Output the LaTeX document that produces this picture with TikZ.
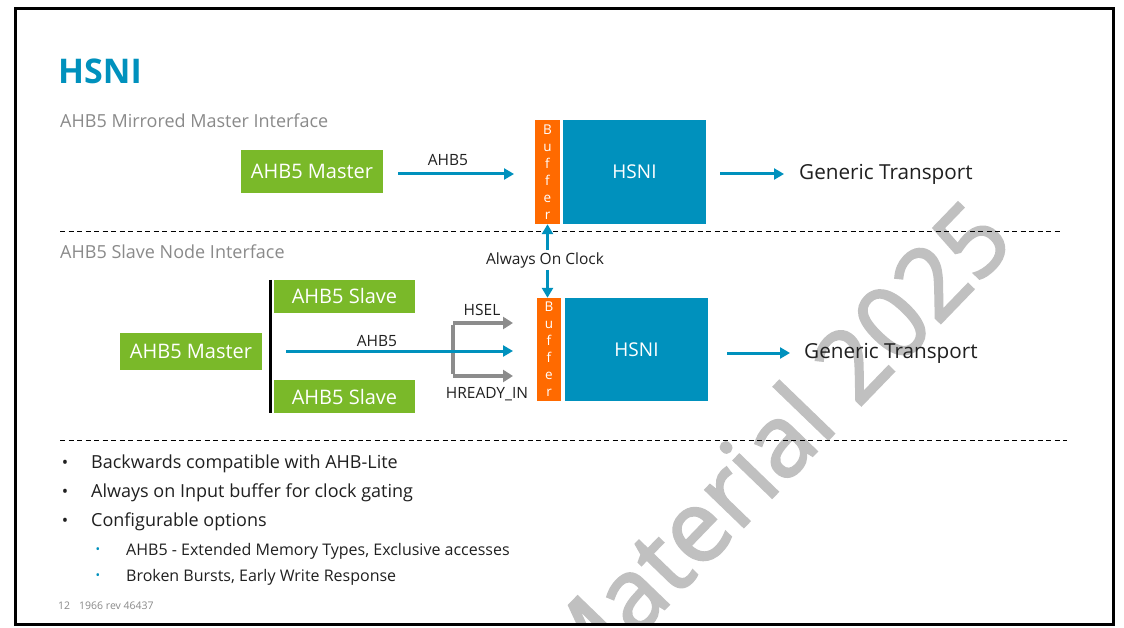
\documentclass[tikz,border=0pt]{standalone}
\usepackage{fontspec}
\setmainfont{Open Sans}
\newfontfamily\wmfont[FakeBold=2.2]{Open Sans}
\usetikzlibrary{arrows.meta,calc}
\definecolor{hgreen}{HTML}{7AB929}
\definecolor{hblue}{HTML}{0091BD}
\definecolor{horange}{HTML}{FF6A00}
\definecolor{hgray}{HTML}{8C8C8C}
\definecolor{hsub}{HTML}{8A8A8A}
\definecolor{htext}{HTML}{202020}
\definecolor{hwm}{HTML}{C0C0C0}
\tikzset{
  greenbox/.style={fill=hgreen, text=white, inner sep=0pt, font=\fontsize{20}{24}\selectfont},
  bluebox/.style={fill=hblue, text=white, inner sep=0pt, minimum width=143pt, minimum height=104pt, font=\fontsize{19}{22}\selectfont},
  bufbox/.style={fill=horange, text=white, inner sep=0pt, align=center, font=\fontsize{13.5}{17}\selectfont},
  lbl/.style={text=htext, inner sep=0pt, font=\fontsize{15.5}{18}\selectfont},
  gtlbl/.style={text=htext, inner sep=0pt, font=\fontsize{20.7}{24}\selectfont},
  barrow/.style={draw=hblue, line width=3pt, -{Triangle[length=10pt,width=11pt]}},
  garrow/.style={draw=hgray, line width=3.5pt, -{Triangle[length=10pt,width=12pt]}},
  dline/.style={draw=black, line width=1pt, dash pattern=on 5pt off 3.5pt},
  bullettxt/.style={text=htext, inner sep=0pt, anchor=west, font=\fontsize{18}{22}\selectfont},
  subtxt/.style={text=htext, inner sep=0pt, anchor=west, font=\fontsize{16}{19}\selectfont},
}
\begin{document}
\begin{tikzpicture}[x=1pt,y=-1pt]
\useasboundingbox (0,0) rectangle (1124,628);
\fill[white] (0,0) rectangle (1124,628);
% watermark
\begin{scope}
\clip (15.5,8.5) rectangle (1113.5,624.5);
\node[text=hwm, rotate=46, inner sep=0pt, font=\wmfont\fontsize{100}{110}\selectfont] (wm) at (768,448) {Material 2025};
\end{scope}
% frame
\draw[line width=3pt] (15.5,8.5) rectangle (1113.5,624.5);
% title
\node[anchor=west, inner sep=0pt, text=hblue, font=\bfseries\fontsize{34}{40}\selectfont] (title) at (58,71) {HSNI};
\node[anchor=west, inner sep=0pt, text=hsub, font=\fontsize{18}{21}\selectfont] (sub1) at (60,121) {AHB5 Mirrored Master Interface};
\node[anchor=west, inner sep=0pt, text=hsub, font=\fontsize{18}{21}\selectfont] (sub2) at (60,252) {AHB5 Slave Node Interface};
% dashed separators
\coordinate (d1a) at (60,232); \coordinate (d1b) at (1060,232);
\coordinate (d2a) at (60,440); \coordinate (d2b) at (1067,440);
\draw[dline] (d1a) -- (d1b);
\draw[dline] (d2a) -- (d2b);
% top row
\node[greenbox, minimum width=142pt, minimum height=43pt] (m1) at (312,171.5) {AHB5 Master};
\node[bufbox, minimum width=25pt, minimum height=104pt] (buf1) at (547.5,172) {B\\u\\f\\f\\e\\r};
\node[bluebox] (hsni1) at (634.5,172) {HSNI};
\node[gtlbl, anchor=west] (gt1) at (799,174) {Generic Transport};
\coordinate (a1s) at (398,174); \coordinate (a1e) at (514,174);
\draw[barrow] (a1s) -- (a1e);
\node[lbl] (l1) at (448,160) {AHB5};
\draw[barrow, shorten <=14pt, shorten >=15pt] (hsni1.east |- gt1.west) -- (gt1.west);
% always on clock
\node[lbl, fill=white, inner sep=1pt] (aoc) at (545,260) {Always On Clock};
% bottom row
\node[greenbox, minimum width=142pt, minimum height=37pt] (m2) at (191,351.5) {AHB5 Master};
\node[greenbox, minimum width=141pt, minimum height=33pt] (s1) at (344.5,296.5) {AHB5 Slave};
\node[greenbox, minimum width=141pt, minimum height=33pt] (s2) at (344.5,396.5) {AHB5 Slave};
\coordinate (bt) at (270.5,280); \coordinate (bb) at (270.5,413);
\draw[line width=3.5pt] (bt) -- (bb);
\node[bufbox, minimum width=24pt, minimum height=103pt] (buf2) at (549,349.5) {B\\u\\f\\f\\e\\r};
\node[bluebox, minimum height=103pt] (hsni2) at (636.5,349.5) {HSNI};
\node[gtlbl, anchor=west] (gt2) at (804,353) {Generic Transport};
\draw[barrow, shorten <=19pt, shorten >=14pt] (hsni2.east |- gt2.west) -- (gt2.west);
% clock arrows
\draw[barrow] (aoc.north -| buf1.south) ++(0,-1) -- (buf1.south);
\draw[barrow] (aoc.south -| buf1.south) ++(0,1) -- (buf2.north -| buf1.south);
% gray fork
\coordinate (gt) at (453,323); \coordinate (gb) at (453,376);
\coordinate (gte) at (513,323); \coordinate (gbe) at (513,376);
\draw[draw=hgray, line width=3.5pt] ([yshift=-1.75pt]gt) -- ([yshift=1.75pt]gb);
\draw[garrow] (gt) -- (gte);
\draw[garrow] (gb) -- (gbe);
\node[lbl] (hsel) at (482,310) {HSEL};
\node[lbl] (hrdy) at (487,394) {HREADY\_IN};
% AHB5 lower
\coordinate (a2s) at (286,351); \coordinate (a2e) at (513,351);
\draw[barrow] (a2s) -- (a2e);
\node[lbl] (l2) at (377,341) {AHB5};
% bullets
\foreach \y/\t [count=\i] in {464/Backwards compatible with AHB-Lite, 493/Always on Input buffer for clock gating, 522/Configurable options}{
  \node[text=htext, inner sep=0pt, font=\fontsize{17}{18}\selectfont] (bd\i) at (65,\y) {\textbullet};
  \node[bullettxt] (bt\i) at (91,\y) {\t};
}
\foreach \y/\t [count=\i] in {551/{AHB5 - Extended Memory Types, Exclusive accesses}, 577/{Broken Bursts, Early Write Response}}{
  \node[text=hblue, inner sep=0pt, font=\fontsize{12}{13}\selectfont] (sd\i) at (98,\y) {\textbullet};
  \node[subtxt] (st\i) at (126,\y) {\t};
}
\node[anchor=west, inner sep=0pt, text=hsub, font=\fontsize{10.5}{12}\selectfont] (pg) at (58,606) {12\hspace{9pt}1966 rev 46437};
\end{tikzpicture}
\end{document}
